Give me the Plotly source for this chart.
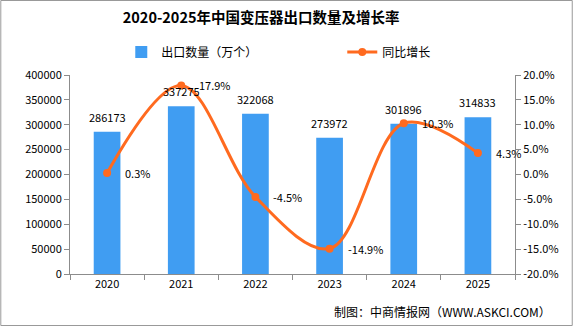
import plotly.graph_objects as go

years = ["2020", "2021", "2022", "2023", "2024", "2025"]
export_qty = [286173, 337275, 322068, 273972, 301896, 314833]
growth = [0.3, 17.9, -4.5, -14.9, 10.3, 4.3]
growth_labels = ["0.3%", "17.9%", "-4.5%", "-14.9%", "10.3%", "4.3%"]
left_ticks = [0, 50000, 100000, 150000, 200000, 250000, 300000, 350000, 400000]
right_ticks = [-20, -15, -10, -5, 0, 5, 10, 15, 20]

FONT = "Noto Sans CJK SC, Noto Sans, sans-serif"
BLUE = "#409DF2"
ORANGE = "#FF6A1F"
AXIS = "#8C8C8C"

L, R, T, B = 70, 58, 75, 52
W, H = 575, 326
pw, ph = W - L - R, H - T - B

fig = go.Figure()
fig.add_trace(go.Bar(
    x=years, y=export_qty, name="出口数量（万个）",
    marker=dict(color=BLUE, line=dict(width=0)),
    cliponaxis=False, yaxis="y",
))
fig.add_trace(go.Scatter(
    x=years, y=growth, name="同比增长", mode="lines+markers",
    line=dict(color=ORANGE, width=3, shape="spline", smoothing=1.0),
    marker=dict(color=ORANGE, size=8),
    cliponaxis=False, yaxis="y2",
))

annotations = []
# category axes place annotations by category index
for i, v in enumerate(export_qty):
    annotations.append(dict(x=i, y=v, xref="x", yref="y", text=str(v),
                            xanchor="center", yanchor="bottom", yshift=5, showarrow=False,
                            font=dict(size=11, family=FONT, color="#000000")))
for i, (g, lab) in enumerate(zip(growth, growth_labels)):
    annotations.append(dict(x=i, y=g, xref="x", yref="y2", text=lab,
                            xanchor="left", yanchor="middle", xshift=16, showarrow=False,
                            font=dict(size=11, family=FONT, color="#000000")))
annotations.append(dict(text="制图：中商情报网（WWW.ASKCI.COM）", xref="paper", yref="paper",
                        x=1 + 38 / pw, xanchor="right", y=-(311 - T - ph) / ph, yanchor="middle",
                        showarrow=False, font=dict(size=12, family=FONT, color="#000000")))

fig.update_layout(
    width=W, height=H,
    margin=dict(l=L, r=R, t=T, b=B, pad=0),
    paper_bgcolor="white", plot_bgcolor="white",
    font=dict(family=FONT, size=11, color="#000000"),
    title=dict(text="<b>2020-2025年中国变压器出口数量及增长率</b>",
               xref="paper", x=(262 - L) / pw, xanchor="center",
               y=1 - 18 / H, yanchor="middle",
               font=dict(size=14.5, color="#000000", family=FONT)),
    bargap=0.64,
    showlegend=True,
    legend=dict(orientation="h", x=0.5 + 50 / pw, xanchor="center", y=1 + 23 / ph, yanchor="middle",
                font=dict(size=12, family=FONT), entrywidth=176, entrywidthmode="pixels",
                itemwidth=30, bgcolor="rgba(0,0,0,0)"),
    xaxis=dict(type="category", categoryorder="array", categoryarray=years,
               range=[-0.5, len(years) - 0.5],
               showline=True, linecolor=AXIS, linewidth=1, ticks="outside",
               tickson="boundaries", ticklen=5, tickcolor=AXIS,
               showgrid=False, tickfont=dict(size=11)),
    yaxis=dict(range=[0, 400000], tickvals=left_ticks, ticktext=[str(v) for v in left_ticks],
               showline=True, linecolor=AXIS, linewidth=1, ticks="outside", ticklen=5,
               tickcolor=AXIS, showgrid=False, zeroline=False, tickfont=dict(size=11)),
    yaxis2=dict(range=[-20, 20], tickvals=right_ticks,
                ticktext=[f"{v:.1f}%" for v in right_ticks],
                overlaying="y", side="right", showline=True, linecolor=AXIS, linewidth=1,
                ticks="outside", ticklen=5, tickcolor=AXIS, showgrid=False, zeroline=False,
                tickfont=dict(size=11)),
    shapes=[dict(type="rect", xref="paper", yref="paper",
                 x0=-(L - 0.5) / pw, x1=1 + (R - 0.5) / pw,
                 y0=-(B - 0.5) / ph, y1=1 + (T - 0.5) / ph,
                 line=dict(color="#999999", width=1), fillcolor="rgba(0,0,0,0)")],
    annotations=annotations,
)

fig.write_html("out.html")
